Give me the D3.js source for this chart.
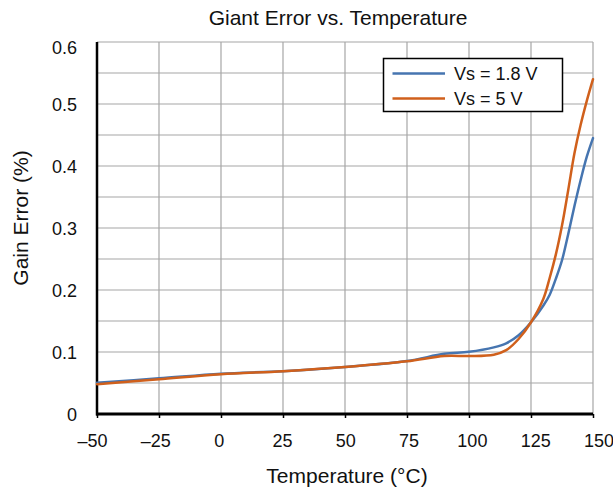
<!DOCTYPE html>
<html>
<head>
<meta charset="utf-8">
<script src="https://cdn.jsdelivr.net/npm/d3@7"></script>
<style>
  html, body { margin: 0; padding: 0; background: #fff; }
  svg { display: block; }
  text { font-family: "Liberation Sans", Arial, Helvetica, sans-serif; fill: #111; }
</style>
</head>
<body>
<svg id="chart" width="613" height="494"></svg>
<script>
// ---- data ----
const temperatures = [-50, -25, 0, 25, 50, 75, 90, 100, 110, 115, 120, 125, 130, 132.5, 135, 137.5, 140, 142.5, 145, 147.5, 150];
const gainVs18 = [0.0505, 0.0575, 0.065, 0.069, 0.0758, 0.0855, 0.097, 0.1003, 0.1075, 0.114, 0.127, 0.148, 0.175, 0.192, 0.218, 0.248, 0.29, 0.335, 0.377, 0.415, 0.445];
const gainVs5  = [0.048, 0.056, 0.064, 0.069, 0.0758, 0.0850, 0.0935, 0.0935, 0.0957, 0.103, 0.121, 0.148, 0.186, 0.219, 0.257, 0.304, 0.361, 0.42, 0.466, 0.505, 0.54];
const seriesNames = ["Vs = 1.8 V", "Vs = 5 V"];
const seriesColors = ["#4675b0", "#d0601c"];
const xTicks = [-50, -25, 0, 25, 50, 75, 100, 125, 150];
const yTicks = [0, 0.1, 0.2, 0.3, 0.4, 0.5, 0.6];
const yGrid = [0.05, 0.1, 0.15, 0.2, 0.25, 0.3, 0.35, 0.4, 0.45, 0.5, 0.55, 0.6];
const titleText = "Giant Error vs. Temperature";
const xTitle = "Temperature (°C)";
const yTitle = "Gain Error (%)";

const svg = d3.select("#chart");
const L = 97, R = 593, T = 42, B = 414;

const x = d3.scaleLinear().domain([-50, 150]).range([L, R]);
const y = d3.scaleLinear().domain([0, 0.6]).range([B, T]);
// tick labels are spread slightly wider than the ticks in the reference
const xLab = d3.scaleLinear().domain([-50, 150]).range([92, 598.5]);

// grid
const g = svg.append("g");
g.selectAll(".vg").data(xTicks.filter(d => d > -50)).enter().append("line")
  .attr("x1", d => x(d)).attr("x2", d => x(d)).attr("y1", T).attr("y2", B)
  .attr("stroke", "#a6a6a6").attr("stroke-width", 1.2);
g.selectAll(".hg").data(yGrid).enter().append("line")
  .attr("x1", L).attr("x2", R).attr("y1", d => y(d)).attr("y2", d => y(d))
  .attr("stroke", "#a6a6a6").attr("stroke-width", 1.2);

// x axis
const xAxis = d3.axisBottom(x).tickValues(xTicks).tickSize(4).tickSizeOuter(0)
  .tickFormat(d => d < 0 ? "\u2013" + Math.abs(d) : String(d));
const xa = svg.append("g").attr("transform", `translate(0,${B})`).call(xAxis);
xa.select(".domain").remove();
xa.selectAll(".tick line").attr("stroke", "#000").attr("stroke-width", 1.5);
xa.selectAll(".tick text")
  .attr("x", d => xLab(d) - x(d))
  .attr("y", 20).attr("dy", "0.71em")
  .style("font-size", "18px").style("font-family", "Liberation Sans, Arial, sans-serif").attr("fill", "#111");

// y axis
const yAxis = d3.axisLeft(y).tickValues(yTicks).tickSize(0).tickPadding(20)
  .tickFormat(d => d === 0 ? "0" : d3.format(".1f")(d));
const ya = svg.append("g").attr("transform", `translate(${L},0)`).call(yAxis);
ya.select(".domain").remove();
ya.selectAll(".tick text")
  .style("font-size", "18px").style("font-family", "Liberation Sans, Arial, sans-serif").attr("fill", "#111")
  .attr("dy", d => d === 0.6 ? "0.62em" : "0.34em");

// axis lines
svg.append("line").attr("x1", L).attr("x2", L).attr("y1", T).attr("y2", B + 1.5)
  .attr("stroke", "#000").attr("stroke-width", 2.5);
svg.append("line").attr("x1", L - 1).attr("x2", R).attr("y1", B).attr("y2", B)
  .attr("stroke", "#000").attr("stroke-width", 3);

// lines
const line = d3.line().x(d => x(d[0])).y(d => y(d[1])).curve(d3.curveCatmullRom.alpha(0.5));
[gainVs18, gainVs5].forEach((vals, i) => {
  svg.append("path")
    .datum(temperatures.map((t, j) => [t, vals[j]]))
    .attr("d", line).attr("fill", "none")
    .attr("stroke", seriesColors[i]).attr("stroke-width", 2.5)
    .attr("stroke-linejoin", "round").attr("stroke-linecap", "round");
});

// legend
const lg = svg.append("g");
lg.append("rect").attr("x", 383.5).attr("y", 58.5).attr("width", 179).attr("height", 53)
  .attr("fill", "#fff").attr("stroke", "#000").attr("stroke-width", 1.5);
seriesNames.forEach((name, i) => {
  const yy = 73.5 + i * 25;
  lg.append("line").attr("x1", 392.5).attr("x2", 445).attr("y1", yy).attr("y2", yy)
    .attr("stroke", seriesColors[i]).attr("stroke-width", 2.5);
  lg.append("text").attr("x", 454).attr("y", yy + 6.5).text(name)
    .style("font-size", "18px");
});

// titles
svg.append("text").attr("x", 338).attr("y", 25).attr("text-anchor", "middle")
  .style("font-size", "21px").text(titleText);
svg.append("text").attr("x", 347).attr("y", 483).attr("text-anchor", "middle")
  .style("font-size", "21px").text(xTitle);
svg.append("text").attr("transform", "translate(28,218) rotate(-90)").attr("text-anchor", "middle")
  .style("font-size", "21px").text(yTitle);
</script>
</body>
</html>
